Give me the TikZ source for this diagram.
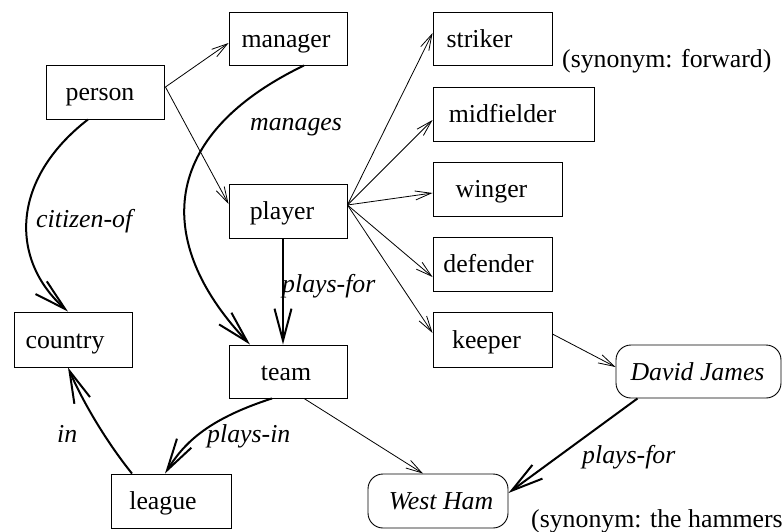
\documentclass[tikz,border=0pt]{standalone}
\usepackage{fontspec}
\setmainfont{Liberation Serif}
\usetikzlibrary{arrows.meta,calc}
\begin{document}
\begin{tikzpicture}[x=1pt,y=-1pt,
  font=\fontsize{25.8}{30}\selectfont,
  box/.style={draw, line width=0.9pt, inner sep=0pt},
  inst/.style={box, rounded corners=15pt},
  txt/.style={inner sep=0pt, text height=20pt, text depth=3pt},
  itxt/.style={txt, font=\fontsize{25.8}{30}\selectfont\itshape},
  thinarr/.style={line width=0.8pt, -{Straight Barb[length=16pt,width=9pt,line width=0.8pt]}},
  thickarr/.style={line width=2pt, -{Straight Barb[length=32pt,width=17pt,line width=2pt]}},
  lab/.style={inner sep=0pt, anchor=base west, font=\fontsize{25.8}{30}\selectfont\itshape}]
\useasboundingbox (0,0) rectangle (782,531);

% nodes
\node[box, minimum width=118pt, minimum height=53pt, label={[txt,xshift=-2pt]center:manager}] (manager) at (288,38.5) {};
\node[box, minimum width=118pt, minimum height=54pt, label={[txt,xshift=-5pt]center:person}] (person) at (105,92) {};
\node[box, minimum width=118pt, minimum height=54pt, label={[txt,xshift=-6pt]center:player}] (player) at (288,211) {};
\node[box, minimum width=119pt, minimum height=53pt, label={[txt,xshift=-13pt]center:striker}] (striker) at (492.5,38.5) {};
\node[box, minimum width=161pt, minimum height=54pt, label={[txt,xshift=-11pt]center:midfielder}] (midfielder) at (513.5,114) {};
\node[box, minimum width=129pt, minimum height=54pt, label={[txt,xshift=-6pt]center:winger}] (winger) at (497.5,189) {};
\node[box, minimum width=119pt, minimum height=54pt, label={[txt,xshift=-4pt]center:defender}] (defender) at (492.5,264) {};
\node[box, minimum width=119pt, minimum height=55pt, label={[txt,xshift=-6pt]center:keeper}] (keeper) at (492.5,339.5) {};
\node[box, minimum width=118pt, minimum height=55pt, label={[txt,xshift=-8pt]center:country}] (country) at (73,339.5) {};
\node[box, minimum width=118pt, minimum height=53pt, label={[txt,xshift=-2pt]center:team}] (team) at (288,371.5) {};
\node[box, minimum width=120pt, minimum height=54pt, label={[txt,xshift=-8pt]center:league}] (league) at (171,501) {};
\node[inst, minimum width=165pt, minimum height=53pt, label={[itxt,xshift=-1pt]center:David James}] (dj) at (698.5,371.5) {};
\node[inst, minimum width=140pt, minimum height=54pt, label={[itxt,xshift=3pt]center:West Ham}] (westham) at (438,501) {};

% synonym notes
\node[anchor=base west, inner sep=0pt] (syn1) at (562,67) {(synonym: forward)};
\node[anchor=base west, inner sep=0pt] (syn2) at (531,527) {(synonym: the hammers)};

% thin arrows
\draw[thinarr] ($(person.east)+(1,-5)$) -- ($(manager.west)+(0,4.5)$);
\draw[thinarr] ($(person.east)+(1,-5)$) -- ($(player.west)+(0,-7)$);
\draw[thinarr] ($(player.east)+(0,-6)$) -- ($(striker.west)+(0,-5.5)$);
\draw[thinarr] ($(player.east)+(0,-6)$) -- ($(midfielder.west)+(0,6)$);
\draw[thinarr] ($(player.east)+(0,-6)$) -- ($(winger.west)+(0,4)$);
\draw[thinarr] ($(player.east)+(0,-6)$) -- ($(defender.west)+(0,13)$);
\draw[thinarr] ($(player.east)+(0,-6)$) -- ($(keeper.west)+(0,-6.5)$);
\draw[thinarr] ($(keeper.east)+(0,-5.5)$) -- ($(dj.west)+(0,-4.5)$);
\draw[thinarr] ($(team.south)+(16,0)$) -- ($(westham.north)+(-15,0)$);

% thick arrows
\draw[thickarr] ($(manager.south)+(16,0)$) .. controls (150,140) and (160,250) .. ($(team.north)+(-38,0)$);
\draw[thickarr] ($(person.south)+(-17,0)$) .. controls (10,180) and (10,260) .. ($(country.north)+(-5,0)$);
\draw[thickarr] ($(player.south)+(-5,0)$) -- ($(team.north)+(-5,0)$);
\draw[thickarr] ($(team.south)+(-16,0)$) .. controls (205,420) and (183,445) .. ($(league.north)+(-6,0)$);
\draw[thickarr] ($(league.north)+(-39,0)$) .. controls (105,440) and (82,400) .. ($(country.south)+(-5,0)$);
\draw[thickarr] ($(dj.south)+(-61,0)$) -- ($(westham.east)+(0,-8)$);

% edge labels
\node[lab] (lmanages) at (250,130) {manages};
\node[lab] (lcitizen) at (36,227) {citizen-of};
\node[lab] (lplaysfor) at (282,292) {plays-for};
\node[lab] (lplaysin) at (207,442) {plays-in};
\node[lab] (lin) at (57,442) {in};
\node[lab] (lplaysfor2) at (582,463) {plays-for};
\end{tikzpicture}
\end{document}
